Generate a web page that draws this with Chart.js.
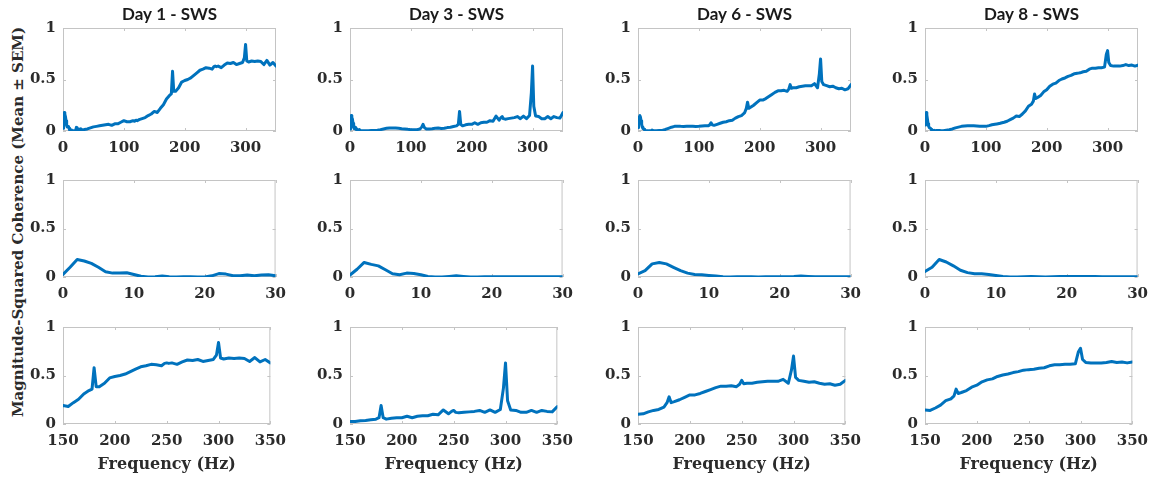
<!DOCTYPE html>
<html>
<head>
<meta charset="utf-8">
<script src="https://cdn.jsdelivr.net/npm/chart.js@4.4.0/dist/chart.umd.min.js"></script>
<style>
  body { margin: 0; background: #fff; }
  #wrap { position: relative; width: 1166px; height: 478px; overflow: hidden; }
  #wrap canvas { position: absolute; }
  #ylab {
    position: absolute; left: 18px; top: 222px;
    transform: translate(-50%, -50%) rotate(-90deg);
    white-space: nowrap; font: bold 15px "DejaVu Serif"; color: #2b2b2b;
  }
</style>
</head>
<body>
<div id="wrap">
  <div id="ylab">Magnitude-Squared Coherence (Mean ± SEM)</div>
</div>
<script>
// panel titles
const days = ['Day 1 - SWS', 'Day 3 - SWS', 'Day 6 - SWS', 'Day 8 - SWS'];

// frequencies (Hz)
const freqLow = [0, 1, 2, 3, 4, 5, 6, 7, 8, 9, 10, 11, 12, 13, 14, 15, 16, 17, 18, 19,
  20, 21, 22, 23, 24, 25, 26, 27, 28, 29, 30];
const freqHigh = [35, 40, 45, 50, 55, 60, 65, 70, 75, 80,
  85, 90, 95, 100, 105, 110, 115, 118, 120, 122,
  125, 130, 135, 140, 145, 150, 155, 160, 165, 170,
  175, 178, 180, 182, 185, 190, 195, 200, 205, 210,
  215, 220, 225, 230, 235, 240, 245, 248, 250, 252,
  255, 260, 265, 270, 275, 280, 285, 290, 295, 298,
  300, 302, 305, 310, 315, 320, 325, 330, 335, 340,
  345, 350];

// coherence 0-30 Hz
const lowDay1 = [0.026, 0.1, 0.18, 0.165, 0.14, 0.1, 0.055, 0.04, 0.04, 0.043,
  0.026, 0.007, 0, 0.003, 0.01, 0.003, 0, 0.003, 0.003, 0,
  0, 0.012, 0.035, 0.03, 0.013, 0.013, 0.02, 0.013, 0.02, 0.023, 0.013];
const lowDay3 = [0.02, 0.08, 0.15, 0.13, 0.115, 0.075, 0.033, 0.023, 0.04, 0.036,
  0.023, 0.006, 0, 0, 0.006, 0.013, 0.006, 0, 0, 0.002,
  0.002, 0.003, 0.003, 0.003, 0.003, 0.003, 0.002, 0.002, 0.002, 0.002, 0.002];
const lowDay6 = [0.033, 0.065, 0.135, 0.15, 0.135, 0.1, 0.065, 0.04, 0.026, 0.023,
  0.016, 0.01, 0.003, 0, 0.003, 0.003, 0.002, 0.001, 0.002, 0.003,
  0.003, 0.003, 0.005, 0.01, 0.006, 0.003, 0.003, 0.003, 0.003, 0.002, 0.002];
const lowDay8 = [0.058, 0.1, 0.18, 0.155, 0.115, 0.07, 0.045, 0.033, 0.033, 0.026,
  0.016, 0.006, 0, 0, 0.003, 0.006, 0.003, 0, 0.003, 0.006,
  0.006, 0.006, 0.006, 0.006, 0.006, 0.003, 0.003, 0.003, 0.003, 0.003, 0.003];

// coherence 35-350 Hz
const highDay1 = [0.015, 0.02, 0.03, 0.04, 0.045, 0.05, 0.055, 0.06, 0.065, 0.055,
  0.07, 0.07, 0.085, 0.1, 0.09, 0.09, 0.1, 0.095, 0.105, 0.1,
  0.11, 0.12, 0.13, 0.15, 0.165, 0.19, 0.18, 0.22, 0.255, 0.31,
  0.345, 0.36, 0.58, 0.385, 0.385, 0.42, 0.475, 0.49, 0.5, 0.515,
  0.54, 0.565, 0.59, 0.6, 0.615, 0.61, 0.6, 0.625, 0.63, 0.625,
  0.63, 0.615, 0.64, 0.66, 0.655, 0.665, 0.645, 0.655, 0.665, 0.71,
  0.84, 0.68, 0.67, 0.68, 0.675, 0.68, 0.675, 0.645, 0.685, 0.64,
  0.665, 0.63];
const highDay3 = [0.005, 0.005, 0.008, 0.013, 0.02, 0.026, 0.03, 0.03, 0.028, 0.026,
  0.022, 0.02, 0.016, 0.013, 0.012, 0.013, 0.02, 0.04, 0.065, 0.035,
  0.02, 0.02, 0.022, 0.026, 0.028, 0.025, 0.026, 0.033, 0.036, 0.043,
  0.05, 0.065, 0.19, 0.065, 0.05, 0.06, 0.065, 0.065, 0.08, 0.065,
  0.08, 0.085, 0.085, 0.1, 0.095, 0.145, 0.105, 0.13, 0.14, 0.12,
  0.115, 0.12, 0.125, 0.13, 0.14, 0.12, 0.145, 0.12, 0.15, 0.37,
  0.63, 0.24, 0.145, 0.14, 0.12, 0.12, 0.14, 0.12, 0.14, 0.13,
  0.125, 0.18];
const highDay6 = [0.005, 0.006, 0.015, 0.026, 0.037, 0.045, 0.047, 0.045, 0.044, 0.045,
  0.046, 0.045, 0.044, 0.045, 0.048, 0.05, 0.05, 0.06, 0.08, 0.06,
  0.055, 0.065, 0.075, 0.085, 0.09, 0.1, 0.105, 0.125, 0.14, 0.15,
  0.175, 0.22, 0.28, 0.22, 0.23, 0.25, 0.275, 0.3, 0.3, 0.315,
  0.335, 0.355, 0.375, 0.39, 0.39, 0.395, 0.385, 0.41, 0.45, 0.415,
  0.42, 0.42, 0.43, 0.435, 0.44, 0.44, 0.44, 0.46, 0.42, 0.555,
  0.7, 0.48, 0.45, 0.44, 0.43, 0.435, 0.42, 0.41, 0.415, 0.4,
  0.41, 0.45];
const highDay8 = [0.008, 0.013, 0.02, 0.03, 0.038, 0.045, 0.048, 0.05, 0.05, 0.05,
  0.048, 0.045, 0.045, 0.045, 0.052, 0.06, 0.065, 0.068, 0.07, 0.072,
  0.078, 0.085, 0.095, 0.11, 0.125, 0.145, 0.14, 0.165, 0.195, 0.24,
  0.26, 0.29, 0.36, 0.315, 0.325, 0.345, 0.38, 0.4, 0.435, 0.455,
  0.465, 0.49, 0.505, 0.515, 0.53, 0.54, 0.555, 0.558, 0.56, 0.562,
  0.565, 0.575, 0.58, 0.6, 0.61, 0.61, 0.615, 0.615, 0.62, 0.745,
  0.78, 0.665, 0.635, 0.63, 0.63, 0.63, 0.635, 0.645, 0.635, 0.64,
  0.63, 0.64];

// tick labels
const xTicksFull = [0, 100, 200, 300];
const xTicksLow = [0, 10, 20, 30];
const xTicksZoom = [150, 200, 250, 300, 350];
const yTicks = [0, 0.5, 1];

const lowSeries = [lowDay1, lowDay3, lowDay6, lowDay8];
const highSeries = [highDay1, highDay3, highDay6, highDay8];

// layout (pixels)
const plotLefts = [63, 350, 638, 925];
const plotW = 213, plotH = 103, yAxisW = 50, padRight = 18;
const rows = [
  { top: 0,   padTop: 0,  axisH: 24, min: 0,   max: 350, ticks: xTicksFull, title: true },
  { top: 164, padTop: 10, axisH: 24, min: 0,   max: 30,  ticks: xTicksLow },
  { top: 311, padTop: 10, axisH: 50, min: 150, max: 350, ticks: xTicksZoom, xTitle: true },
];

const tickFont = { family: 'DejaVu Serif', size: 15, weight: 'bold' };
const labelFont = { family: 'DejaVu Serif', size: 16, weight: 'bold' };
const textColor = '#2b2b2b';

// MATLAB-like box with inward tick marks
const boxPlugin = {
  id: 'box',
  beforeDatasetsDraw(chart) {
    const { ctx, chartArea: a, scales } = chart;
    ctx.save();
    ctx.strokeStyle = '#c4c4c4';
    ctx.lineWidth = 1;
    ctx.strokeRect(a.left + 0.5, a.top + 0.5, a.width - 1, a.height - 1);
    ctx.beginPath();
    scales.x.ticks.forEach(t => {
      const px = Math.round(scales.x.getPixelForValue(t.value)) + 0.5;
      ctx.moveTo(px, a.bottom); ctx.lineTo(px, a.bottom - 3);
      ctx.moveTo(px, a.top); ctx.lineTo(px, a.top + 3);
    });
    scales.y.ticks.forEach(t => {
      const py = Math.round(scales.y.getPixelForValue(t.value)) + 0.5;
      ctx.moveTo(a.left, py); ctx.lineTo(a.left + 3, py);
      ctx.moveTo(a.right, py); ctx.lineTo(a.right - 3, py);
    });
    ctx.stroke();
    ctx.restore();
  }
};

const wrap = document.getElementById('wrap');

rows.forEach(row => {
  days.forEach((day, c) => {
    const titleH = row.title ? 28 : 0;
    const canvas = document.createElement('canvas');
    const w = yAxisW + plotW + padRight;
    const h = row.padTop + titleH + plotH + row.axisH;
    canvas.width = w;
    canvas.height = h;
    canvas.style.left = (plotLefts[c] - yAxisW) + 'px';
    canvas.style.top = row.top + 'px';
    canvas.style.width = w + 'px';
    canvas.style.height = h + 'px';
    wrap.appendChild(canvas);

    const points = freqLow.map((f, i) => ({ x: f, y: lowSeries[c][i] }))
      .concat(freqHigh.map((f, i) => ({ x: f, y: highSeries[c][i] })));

    new Chart(canvas.getContext('2d'), {
      type: 'line',
      data: {
        datasets: [{
          data: points,
          borderColor: '#0072BD',
          borderWidth: 3,
          borderJoinStyle: 'round',
          borderCapStyle: 'round',
          pointRadius: 0,
          tension: 0,
        }],
      },
      options: {
        responsive: false,
        animation: false,
        layout: { padding: { top: row.padTop, right: padRight, bottom: 0, left: 0 } },
        plugins: {
          legend: { display: false },
          tooltip: { enabled: false },
          title: {
            display: !!row.title,
            text: day,
            fullSize: false,
            color: '#1a1a1a',
            font: { family: 'Lato', size: 17, weight: 'bold' },
            padding: { top: 4, bottom: 3.6 },
          },
        },
        scales: {
          x: {
            type: 'linear',
            min: row.min,
            max: row.max,
            grid: { display: false, drawTicks: false },
            border: { display: false },
            ticks: { font: tickFont, color: textColor, padding: 8, maxRotation: 0,
              callback: v => String(v) },
            afterBuildTicks: s => { s.ticks = row.ticks.map(v => ({ value: v })); },
            afterFit: s => { s.height = row.axisH; },
            title: {
              display: !!row.xTitle,
              text: 'Frequency (Hz)',
              color: textColor,
              font: labelFont,
              padding: { top: 0, bottom: 0 },
            },
          },
          y: {
            min: 0,
            max: 1,
            grid: { display: false, drawTicks: false },
            border: { display: false },
            ticks: { font: tickFont, color: textColor, padding: 7,
              callback: v => String(v) },
            afterBuildTicks: s => { s.ticks = yTicks.map(v => ({ value: v })); },
            afterFit: s => { s.width = yAxisW; },
          },
        },
      },
      plugins: [boxPlugin],
    });
  });
});
</script>
</body>
</html>
